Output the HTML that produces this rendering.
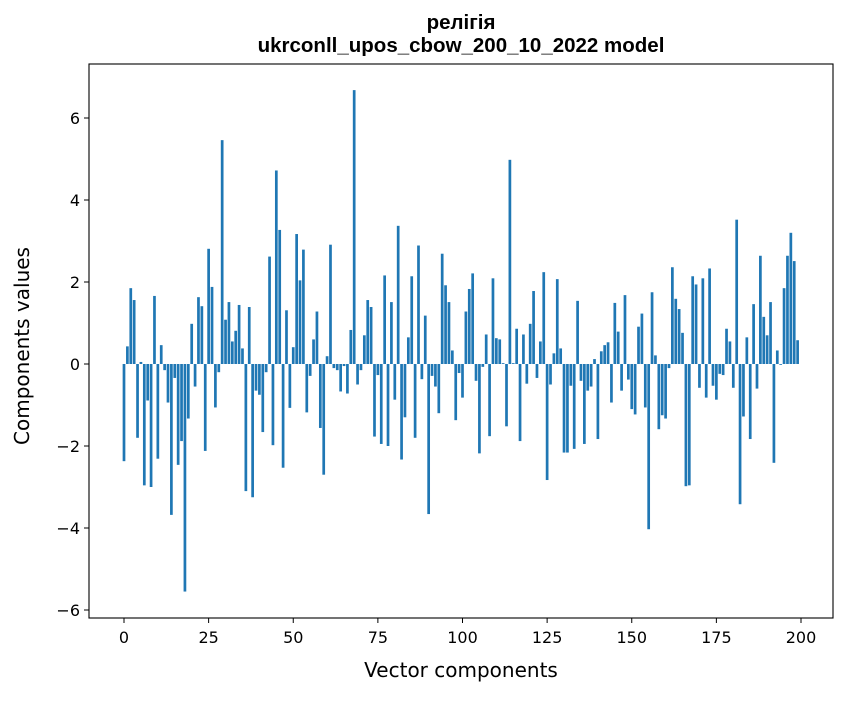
<!DOCTYPE html>
<html><head><meta charset="utf-8"><style>
body{margin:0;background:#fff;}
svg text{font-family:"DejaVu Sans","Liberation Sans",sans-serif;}
</style></head><body>
<svg id="chart" width="847" height="696" xmlns="http://www.w3.org/2000/svg">
<rect width="847" height="696" fill="#fff"/>
<text x="461" y="29" text-anchor="middle" font-size="20.5" font-weight="bold" style="font-family:'Liberation Sans',sans-serif">релігія</text>
<text x="461" y="52" text-anchor="middle" font-size="20.5" font-weight="bold" style="font-family:'Liberation Sans',sans-serif">ukrconll_upos_cbow_200_10_2022 model</text>
<g id="bars"></g>
<g id="axes"></g>
<text x="461" y="677" text-anchor="middle" font-size="20">Vector components</text>
<text transform="translate(29,346) rotate(-90)" text-anchor="middle" font-size="20">Components values</text>
</svg>
<script>
const values = [-2.37,0.43,1.85,1.56,-1.8,0.05,-2.96,-0.89,-3.0,1.66,
-2.31,0.46,-0.15,-0.94,-3.68,-0.34,-2.46,-1.88,-5.55,-1.33,
0.98,-0.55,1.63,1.41,-2.12,2.81,1.88,-1.06,-0.2,5.46,
1.08,1.51,0.55,0.81,1.44,0.38,-3.1,1.39,-3.25,-0.65,
-0.75,-1.66,-0.2,2.62,-1.98,4.72,3.27,-2.53,1.31,-1.07,
0.41,3.17,2.04,2.79,-1.18,-0.29,0.6,1.28,-1.56,-2.7,
0.19,2.91,-0.1,-0.15,-0.67,-0.05,-0.72,0.83,6.68,-0.5,
-0.15,0.7,1.56,1.39,-1.77,-0.27,-1.95,2.16,-2.0,1.51,
-0.87,3.37,-2.33,-1.3,0.65,2.14,-1.8,2.89,-0.37,1.18,
-3.66,-0.29,-0.55,-1.2,2.69,1.92,1.51,0.33,-1.37,-0.22,
-0.82,1.28,1.83,2.21,-0.41,-2.18,-0.07,0.72,-1.76,2.09,
0.63,0.6,0.02,-1.52,4.98,0.02,0.86,-1.88,0.72,-0.48,
0.98,1.78,-0.34,0.55,2.24,-2.83,-0.5,0.26,2.07,0.38,
-2.16,-2.16,-0.53,-2.07,1.54,-0.41,-1.95,-0.65,-0.55,0.12,
-1.83,0.31,0.46,0.53,-0.94,1.49,0.79,-0.65,1.68,-0.38,
-1.1,-1.23,0.91,1.23,-1.06,-4.03,1.75,0.21,-1.59,-1.25,
-1.33,-0.1,2.36,1.59,1.34,0.76,-2.98,-2.96,2.14,1.94,
-0.58,2.09,-0.82,2.33,-0.53,-0.87,-0.24,-0.27,0.86,0.55,
-0.58,3.52,-3.42,-1.28,0.65,-1.83,1.46,-0.6,2.64,1.15,
0.7,1.51,-2.41,0.33,-0.02,1.85,2.64,3.2,2.51,0.58];
const xTicks = [0,25,50,75,100,125,150,175,200];
const yTicks = [-6,-4,-2,0,2,4,6];
const NS="http://www.w3.org/2000/svg";
const L=89,R=833,T=64,B=618;
function xs(v){return 124+v*(677/200);}
function ys(v){return 364-v*41;}
const bars=document.getElementById('bars');
values.forEach((v,i)=>{
  const r=document.createElementNS(NS,'rect');
  const w=0.8*677/200;
  r.setAttribute('x',xs(i)-w/2);
  r.setAttribute('y',Math.min(ys(v),ys(0)));
  r.setAttribute('width',w);
  r.setAttribute('height',Math.abs(ys(v)-ys(0)));
  r.setAttribute('fill','#1f77b4');
  
  
  bars.appendChild(r);
});
const axes=document.getElementById('axes');
const frame=document.createElementNS(NS,'rect');
frame.setAttribute('x',L);frame.setAttribute('y',T);frame.setAttribute('width',R-L);frame.setAttribute('height',B-T);
frame.setAttribute('fill','none');frame.setAttribute('stroke','#000');frame.setAttribute('stroke-width','1.1');


axes.appendChild(frame);
xTicks.forEach(t=>{
  const l=document.createElementNS(NS,'line');
  l.setAttribute('x1',xs(t));l.setAttribute('x2',xs(t));l.setAttribute('y1',B);l.setAttribute('y2',B+5);l.setAttribute('stroke','#000');
  
  
  axes.appendChild(l);
  const tx=document.createElementNS(NS,'text');
  tx.setAttribute('x',xs(t));tx.setAttribute('y',B+25);tx.setAttribute('text-anchor','middle');tx.setAttribute('font-size','16');
  tx.textContent=t;
  
  
  axes.appendChild(tx);
});
yTicks.forEach(t=>{
  const l=document.createElementNS(NS,'line');
  l.setAttribute('x1',L-5);l.setAttribute('x2',L);l.setAttribute('y1',ys(t));l.setAttribute('y2',ys(t));l.setAttribute('stroke','#000');
  
  
  axes.appendChild(l);
  const tx=document.createElementNS(NS,'text');
  tx.setAttribute('x',L-9);tx.setAttribute('y',ys(t)+6);tx.setAttribute('text-anchor','end');tx.setAttribute('font-size','16');
  tx.textContent=t<0?'\u2212'+Math.abs(t):t;
  
  
  axes.appendChild(tx);
});
</script>
</body></html>
